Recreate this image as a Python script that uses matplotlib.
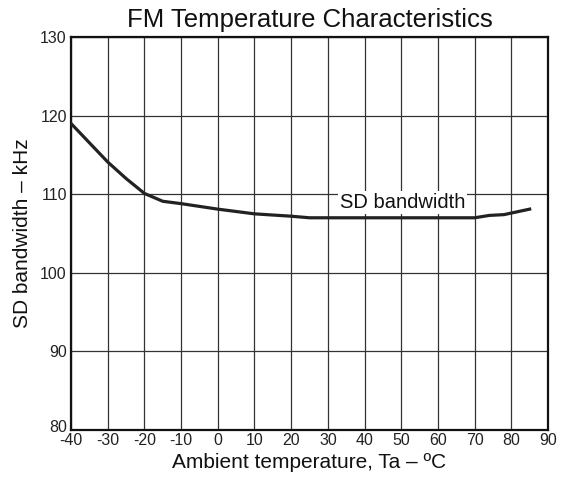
import numpy as np
import matplotlib.pyplot as plt
from matplotlib.transforms import ScaledTranslation

plt.rcParams['font.family'] = ['Liberation Sans', 'DejaVu Sans']
plt.rcParams['axes.unicode_minus'] = False

# values
temp = [-40, -30, -25, -20, -15, -10, 0, 10, 20, 25, 70, 74, 78, 85]
bandwidth = [119.0, 114.1, 112.0, 110.1, 109.1, 108.8, 108.1, 107.5, 107.2, 107.0, 107.0, 107.3, 107.4, 108.1]

x_ticks = list(range(-40, 91, 10))
y_ticks = [80, 90, 100, 110, 120, 130]

fig = plt.figure(figsize=(5.63, 4.78), dpi=100)
ax = fig.add_axes([71 / 563, 48 / 478, 477 / 563, 393 / 478])

ax.set_xlim(-40, 90)
ax.set_ylim(80, 130)
ax.set_xticks(x_ticks)
ax.set_yticks(y_ticks)
ax.tick_params(length=0, labelsize=11.5, colors='#222222')
ax.tick_params(axis='x', pad=2)
ax.tick_params(axis='y', pad=3)

# lift the bottom y label a little so it clears -40
lbl80 = ax.get_yticklabels()[0]
lbl80.set_transform(lbl80.get_transform() + ScaledTranslation(0, 3 / 72, fig.dpi_scale_trans))

ax.grid(True, color='#333333', linewidth=0.9)
ax.set_axisbelow(True)
for s in ax.spines.values():
    s.set_linewidth(1.6)
    s.set_color('#111111')

ax.plot(temp, bandwidth, color='#222222', linewidth=2.3, zorder=3)

ax.text(50.3, 108.9, 'SD bandwidth', fontsize=14.5, ha='center', va='center',
        color='#111111', zorder=4,
        bbox=dict(facecolor='white', edgecolor='none', pad=1.5))

ax.set_title('FM Temperature Characteristics', fontsize=18.5, pad=7, color='#111111')
ax.set_xlabel('Ambient temperature, Ta – ºC', fontsize=15, color='#111111', labelpad=4)
ax.set_ylabel('SD bandwidth – kHz', fontsize=15, color='#111111', labelpad=6)

fig.savefig('out.png', dpi=100)
